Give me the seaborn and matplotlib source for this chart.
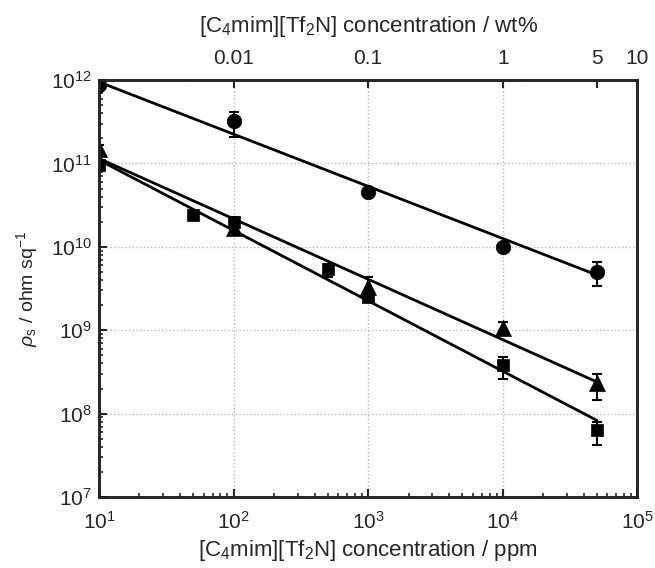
import numpy as np
import pandas as pd
import matplotlib
matplotlib.use("Agg")
import matplotlib.pyplot as plt
import seaborn as sns
from matplotlib.ticker import LogLocator, FixedLocator, FixedFormatter, NullLocator, NullFormatter

# ---- data ----
circle_x = [10, 100, 1000, 10000, 50000]
circle_y = [8.7e11, 3.2e11, 4.5e10, 1.0e10, 5.0e9]
circle_lo = [7.8e11, 2.1e11, 4.0e10, 9.0e9, 3.4e9]
circle_hi = [9.6e11, 4.1e11, 5.0e10, 1.1e10, 6.6e9]

tri_x = [10, 100, 1000, 10000, 50000]
tri_y = [1.5e11, 1.7e10, 3.3e9, 1.05e9, 2.3e8]
tri_lo = [1.35e11, 1.5e10, 2.6e9, 0.95e9, 1.46e8]
tri_hi = [1.65e11, 1.9e10, 4.4e9, 1.25e9, 3.0e8]

sq_x = [10, 50, 100, 500, 1000, 10000, 50000]
sq_y = [9.6e10, 2.4e10, 2.0e10, 5.5e9, 2.5e9, 3.8e8, 6.3e7]
sq_lo = [8.8e10, 2.1e10, 1.8e10, 4.3e9, 2.2e9, 2.6e8, 4.2e7]
sq_hi = [1.05e11, 2.7e10, 2.3e10, 6.3e9, 2.8e9, 4.8e8, 8.0e7]

fit_x = [10, 50000]
circle_fit = [9.5e11, 4.6e9]
tri_fit = [1.15e11, 2.4e8]
sq_fit = [1.1e11, 8.3e7]

top_ticks = [0.01, 0.1, 1, 5, 10]
top_labels = ["0.01", "0.1", "1", "5", "10"]

# ---- style ----
sns.set_style("ticks")
plt.rcParams["font.family"] = ["Liberation Sans", "DejaVu Sans"]
plt.rcParams["mathtext.fontset"] = "custom"
plt.rcParams["mathtext.rm"] = "Liberation Sans"
plt.rcParams["mathtext.it"] = "Liberation Sans:italic"
plt.rcParams["mathtext.bf"] = "Liberation Sans:bold"

fig = plt.figure(figsize=(6.55, 5.68), dpi=100)
ax = fig.add_axes([0.151, 0.125, 0.822, 0.734])
ax.set_xscale("log")
ax.set_yscale("log")

series = [
    ("circle", "o", circle_x, circle_y, circle_lo, circle_hi, circle_fit, 10.5),
    ("triangle", "^", tri_x, tri_y, tri_lo, tri_hi, tri_fit, 11.5),
    ("square", "s", sq_x, sq_y, sq_lo, sq_hi, sq_fit, 9),
]

for name, mk, xs, ys, lo, hi, fit, ms in series:
    ys_a = np.array(ys)
    yerr = np.vstack([ys_a - np.array(lo), np.array(hi) - ys_a])
    ax.errorbar(xs, ys, yerr=yerr, fmt="none", ecolor="black", elinewidth=1.5,
                capsize=3.5, capthick=1.5, zorder=3)
    df = pd.DataFrame({"x": xs, "y": ys})
    sns.scatterplot(data=df, x="x", y="y", marker=mk, s=ms ** 2, color="black",
                    edgecolor="black", linewidth=0.5, ax=ax, zorder=4)
    dff = pd.DataFrame({"x": fit_x, "y": fit})
    sns.lineplot(data=dff, x="x", y="y", color="black", linewidth=2, ax=ax, zorder=2)

ax.set_xlim(10, 1e5)
ax.set_ylim(1e7, 1e12)

ax.grid(True, which="major", linestyle=":", color="#b8b8b8", linewidth=1.0)

ax.xaxis.set_major_locator(LogLocator(base=10, numticks=10))
ax.xaxis.set_minor_locator(LogLocator(base=10, subs=np.arange(2, 10), numticks=10))
ax.yaxis.set_major_locator(LogLocator(base=10, numticks=10))
ax.yaxis.set_minor_locator(LogLocator(base=10, subs=np.arange(2, 10), numticks=10))

ax.tick_params(axis="both", which="major", direction="in", length=6, width=1.5,
               labelsize=15, top=False, right=False)
ax.tick_params(axis="both", which="minor", direction="in", length=3, width=1.2,
               top=False, right=False)
ax.tick_params(axis="x", which="major", pad=10)
ax.tick_params(axis="y", which="major", pad=5)

for sp in ax.spines.values():
    sp.set_linewidth(1.8)
    sp.set_color("black")

ax.set_xlabel("[C$_4$mim][Tf$_2$N] concentration / ppm", fontsize=16, labelpad=4)
ax.set_ylabel(r"$\it{\rho}_{\rm s}$ / ohm sq$^{-1}$", fontsize=14, labelpad=8)

# top axis in wt%
ax2 = ax.twiny()
ax2.set_xscale("log")
ax2.set_xlim(10 / 1e4, 1e5 / 1e4)
ax2.xaxis.set_major_locator(FixedLocator(top_ticks))
ax2.xaxis.set_major_formatter(FixedFormatter(top_labels))
ax2.xaxis.set_minor_locator(NullLocator())
ax2.xaxis.set_minor_formatter(NullFormatter())
ax2.tick_params(axis="x", which="major", direction="in", length=6, width=1.5,
                labelsize=15, pad=9)
ax2.set_xlabel("[C$_4$mim][Tf$_2$N] concentration / wt%", fontsize=16, labelpad=12)
for sp in ax2.spines.values():
    sp.set_linewidth(1.8)

fig.savefig("out.png", dpi=100)
